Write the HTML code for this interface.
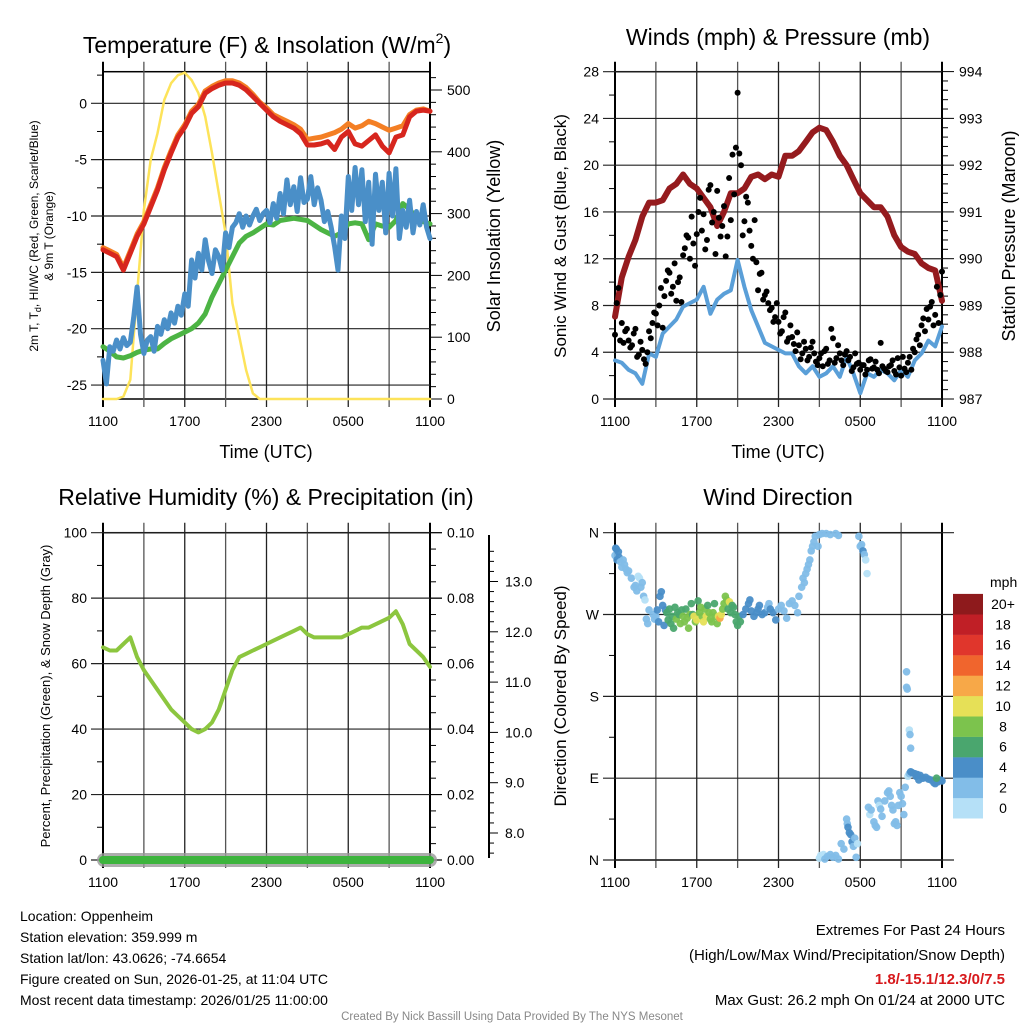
<!DOCTYPE html>
<html><head><meta charset="utf-8"><style>
html,body{margin:0;padding:0;background:#fff}
svg{display:block;font-family:"Liberation Sans",Arial,sans-serif}
</style></head><body>
<svg id="s" width="1024" height="1024" viewBox="0 0 1024 1024" xmlns="http://www.w3.org/2000/svg">
<rect width="1024" height="1024" fill="#fff"/>
<g id="axes"></g>
<g id="marks"></g>
<g id="labels" fill="#000">
<text x="267" y="53" font-size="23" text-anchor="middle">Temperature (F) &amp; Insolation (W/m<tspan font-size="14" dy="-10">2</tspan><tspan dy="10">)</tspan></text>
<text x="778" y="45" font-size="23" text-anchor="middle">Winds (mph) &amp; Pressure (mb)</text>
<text x="266" y="505" font-size="23" text-anchor="middle">Relative Humidity (%) &amp; Precipitation (in)</text>
<text x="778" y="505" font-size="23" text-anchor="middle">Wind Direction</text>
<text x="266" y="458" font-size="18" text-anchor="middle">Time (UTC)</text>
<text x="778" y="458" font-size="18" text-anchor="middle">Time (UTC)</text>
<text transform="translate(38,236) rotate(-90)" font-size="12" text-anchor="middle">2m T, T<tspan font-size="9" dy="3">d</tspan><tspan dy="-3">, HI/WC (Red, Green, Scarlet/Blue)</tspan></text>
<text transform="translate(53,236) rotate(-90)" font-size="12" text-anchor="middle">&amp; 9m T (Orange)</text>
<text transform="translate(500,236) rotate(-90)" font-size="18" text-anchor="middle">Solar Insolation (Yellow)</text>
<text transform="translate(566,236) rotate(-90)" font-size="17" text-anchor="middle">Sonic Wind &amp; Gust (Blue, Black)</text>
<text transform="translate(1015,236) rotate(-90)" font-size="18" text-anchor="middle">Station Pressure (Maroon)</text>
<text transform="translate(50,696) rotate(-90)" font-size="13" text-anchor="middle">Percent, Precipitation (Green), &amp; Snow Depth (Gray)</text>
<text transform="translate(566,696) rotate(-90)" font-size="17" text-anchor="middle">Direction (Colored By Speed)</text>
<text x="990" y="587" font-size="14">mph</text>
<g font-size="14">
<text x="20" y="921">Location: Oppenheim</text>
<text x="20" y="942">Station elevation: 359.999 m</text>
<text x="20" y="963">Station lat/lon: 43.0626; -74.6654</text>
<text x="20" y="984">Figure created on Sun, 2026-01-25, at 11:04 UTC</text>
<text x="20" y="1005">Most recent data timestamp: 2026/01/25 11:00:00</text>
</g>
<g font-size="15" text-anchor="end">
<text x="1005" y="935">Extremes For Past 24 Hours</text>
<text x="1005" y="960">(High/Low/Max Wind/Precipitation/Snow Depth)</text>
<text x="1005" y="984" fill="#d7191c" font-weight="bold">1.8/-15.1/12.3/0/7.5</text>
<text x="1005" y="1005">Max Gust: 26.2 mph On 01/24 at 2000 UTC</text>
</g>
<text x="512" y="1020" font-size="11.5" fill="#888" text-anchor="middle">Created By Nick Bassill Using Data Provided By The NYS Mesonet</text>
</g>
</svg>
<script>
// ---- data (half-hour steps from 1100 UTC) ----
const tempRed=[-13.0,-13.3,-13.6,-14.8,-13.3,-11.8,-10.7,-9.2,-7.7,-5.9,-4.4,-3.0,-2.1,-0.9,-0.3,0.9,1.3,1.6,1.8,1.8,1.6,1.2,0.6,0.0,-0.6,-1.2,-1.6,-1.9,-2.2,-2.7,-3.7,-3.7,-3.6,-3.4,-4.1,-3.0,-2.5,-3.6,-3.8,-3.3,-2.8,-3.8,-4.4,-3.0,-2.8,-1.2,-0.7,-0.6,-0.7];
const temp9m=[-12.8,-13.1,-13.4,-14.6,-13.1,-11.6,-10.5,-9.0,-7.5,-5.7,-4.2,-2.8,-1.9,-0.7,-0.1,1.1,1.5,1.8,2.0,2.0,1.8,1.4,0.8,0.1,-0.4,-1.0,-1.3,-1.6,-1.9,-2.3,-3.2,-3.1,-3.0,-2.8,-2.6,-2.3,-1.8,-2.2,-2.0,-1.6,-1.8,-2.1,-2.4,-2.2,-2.0,-1.0,-0.6,-0.5,-0.7];
const dewPoint=[-21.6,-22.0,-22.5,-22.6,-22.4,-22.1,-21.9,-21.8,-21.8,-21.3,-20.9,-20.6,-20.3,-20.0,-19.5,-18.7,-17.2,-16.0,-14.8,-13.6,-12.4,-11.8,-11.5,-11.1,-10.7,-10.8,-10.4,-10.3,-10.2,-10.3,-10.4,-10.8,-11.2,-11.5,-11.8,-11.5,-10.7,-10.6,-10.7,-12.1,-10.7,-10.9,-11.0,-10.4,-8.9,-9.4,-10.2,-10.5,-10.7];
// wind chill, quarter-hour steps
const windChill=[-22.8,-24.9,-21.6,-22.0,-21.0,-21.8,-20.8,-21.5,-21.2,-19.0,-16.3,-20.5,-22.2,-21.0,-20.7,-22.0,-19.8,-20.5,-19.2,-20.0,-18.6,-19.5,-18.0,-18.8,-16.9,-18.0,-13.9,-15.5,-13.3,-14.8,-12.1,-14.0,-15.1,-13.0,-13.6,-14.8,-11.5,-12.8,-11.0,-10.6,-9.8,-11.0,-10.0,-10.8,-10.0,-9.4,-10.4,-9.8,-9.5,-10.6,-8.9,-10.2,-8.0,-9.8,-6.8,-9.0,-7.4,-9.6,-6.6,-8.8,-8.5,-6.5,-9.0,-7.5,-8.6,-10.5,-9.6,-11.0,-12.7,-14.8,-10.0,-12.0,-6.5,-9.5,-5.7,-9.0,-5.9,-10.5,-7.0,-12.5,-6.3,-9.5,-7.0,-11.5,-6.2,-10.0,-5.8,-12.0,-9.5,-11.0,-8.6,-11.5,-9.6,-10.8,-9.0,-11.0,-12.0];
const solar=[0,0,0,4,31,171,306,387,430,484,511,524,528,516,495,457,398,333,268,155,101,47,9,0,0,0,0,0,0,0,0,0,0,0,0,0,0,0,0,0,0,0,0,0,0,0,0,0,0];
const pressure=[988.76,989.6,990.04,990.4,990.9,991.2,991.2,991.25,991.5,991.6,991.8,991.6,991.5,991.3,991.1,990.7,991.0,991.4,991.4,991.5,991.75,991.8,991.7,991.8,991.75,992.2,992.2,992.3,992.5,992.7,992.8,992.75,992.5,992.2,992.0,991.7,991.4,991.25,991.1,991.1,990.9,990.5,990.25,990.15,990.1,989.9,989.8,989.75,989.1];
const windSpeed=[3.3,3.1,2.5,2.2,1.3,3.9,3.6,5.6,6.2,6.8,7.9,8.2,8.5,9.6,7.3,8.5,9.0,9.3,11.9,9.6,7.6,6.2,4.8,4.5,4.2,3.9,3.9,2.8,2.2,2.8,1.9,2.2,2.8,1.9,3.6,2.2,0.5,2.2,1.9,2.5,2.2,1.6,2.5,1.9,3.3,3.9,5.0,4.5,6.2];
// gust, quarter-hour steps
const windGust=[5.5,9.5,6.5,5.8,5.0,4.6,6.0,3.8,4.2,3.0,5.8,6.5,7.3,8.0,6.1,10.1,10.8,9.6,8.4,10.4,12.3,14.0,12.0,13.3,14.1,17.2,15.8,13.6,18.3,16.0,17.8,13.9,16.5,13.9,15.3,17.5,26.2,20.0,15.2,16.8,13.1,15.3,9.3,10.8,8.9,8.2,7.8,7.0,6.6,5.8,7.4,5.2,5.3,4.1,4.6,3.9,4.3,3.6,4.9,3.2,3.5,2.8,4.3,3.3,5.2,3.5,3.9,2.9,4.1,3.6,2.7,3.0,2.5,2.9,2.5,3.4,2.7,2.5,4.8,2.6,2.3,2.9,2.4,3.5,2.0,2.6,3.1,2.5,4.0,5.5,6.3,5.8,6.8,8.3,7.2,6.5,10.9];
// gust, offset samples (quarter-hour steps starting 1107 UTC)
const windGust2=[8.2,5.0,4.8,6.0,4.4,5.6,3.6,4.9,3.4,4.0,5.2,7.4,6.3,9.5,8.8,11.0,9.0,11.6,10.0,8.3,12.9,13.8,15.6,11.4,16.0,14.4,12.8,17.9,15.1,12.4,15.5,14.8,12.2,18.9,20.9,21.5,21.0,14.0,17.3,14.4,12.0,11.7,10.7,8.5,9.2,7.6,6.6,8.2,5.6,7.0,4.9,6.3,4.7,5.7,3.4,4.9,3.3,4.4,3.9,2.9,3.9,4.1,3.0,6.0,3.1,4.6,3.3,3.8,3.3,2.4,3.9,3.1,2.9,2.1,3.3,2.6,3.2,2.2,2.8,2.4,2.8,3.3,2.1,2.7,3.6,2.3,3.6,4.3,5.1,4.6,6.9,7.7,7.9,6.3,9.6,8.9];
const relHum=[65,64,64,66,68,62,58,55,52,49,46,44,42,40,39,40,42,46,52,58,62,63,64,65,66,67,68,69,70,71,69,68,68,68,68,68,69,70,71,71,72,73,74,76,72,66,64,62,59];
const precip=[0,0];
// wind direction scatter: hours since 1100, degrees, mph
const wdT=[0.0,0.05,0.1,0.15,0.25,0.3,0.4,0.5,0.6,0.7,0.8,0.9,1.0,1.2,1.4,1.5,1.6,1.7,1.8,1.9,2.0,2.1,2.2,2.3,2.4,2.5,2.8,2.9,3.0,3.1,3.2,3.3,3.4,3.5,3.6,3.7,3.8,3.9,4.0,4.1,4.2,4.3,4.4,4.5,4.6,4.7,4.8,4.9,5.0,5.1,5.2,5.3,5.4,5.5,5.6,5.7,5.8,5.9,6.0,6.1,6.2,6.3,6.4,6.5,6.6,6.7,6.8,6.9,7.0,7.1,7.2,7.3,7.4,7.5,7.6,7.7,7.8,7.9,8.0,8.1,8.2,8.3,8.4,8.5,8.6,8.7,8.8,8.9,9.0,9.1,9.2,9.4,9.6,9.8,9.9,10.0,10.2,10.4,10.5,10.6,10.8,11.0,11.2,11.3,11.4,11.6,11.8,12.0,12.2,12.4,12.6,12.8,13.0,13.2,13.4,13.5,13.7,13.8,13.9,14.0,14.1,14.2,14.3,14.4,14.5,14.6,14.7,14.9,15.0,15.2,15.5,15.8,16.2,16.4,17.9,18.0,18.1,18.2,18.3,18.4,18.5,15.0,15.1,15.3,15.4,15.6,15.8,16.0,16.2,16.4,16.6,16.8,17.0,17.05,17.1,17.2,17.3,17.4,17.5,17.6,17.7,17.8,18.6,18.7,18.8,19.0,19.1,19.2,19.3,19.4,19.5,19.6,19.8,20.0,20.1,20.2,20.3,20.4,20.5,20.6,20.7,20.8,20.9,21.0,21.1,21.2,21.3,21.4,21.4,21.45,21.6,21.65,21.7,21.5,21.6,21.7,21.8,22.0,22.1,22.2,22.4,22.6,22.8,23.0,23.2,23.4,23.5,23.7,23.9,24.0,23.6,22.3];
const wdD=[335,343,342,330,339,333,328,322,330,325,320,316,318,310,300,302,296,312,310,300,305,290,286,265,260,275,270,265,268,275,262,290,295,280,258,275,272,264,276,260,268,255,278,265,272,270,260,275,268,262,276,266,255,270,282,270,268,262,264,285,272,278,268,262,276,268,280,272,265,262,272,282,268,260,268,266,270,276,282,290,286,276,284,272,280,278,270,262,258,268,262,270,276,282,286,274,268,272,276,280,270,272,278,282,276,272,264,276,280,274,266,282,285,280,272,290,300,310,305,315,320,325,330,340,345,350,356,345,358,359,359,358,359,357,356,345,347,340,336,330,315,2,5,6,1,4,6,3,5,1,18,12,45,40,36,30,28,20,15,24,3,18,58,50,55,42,38,36,65,60,56,48,65,74,76,70,60,55,40,42,38,60,74,70,62,50,80,207,190,188,143,138,123,92,95,97,96,95,92,94,93,90,91,89,88,85,84,86,88,87,90,88];
const wdS=[3,4,4,5,4,4,3,3,3,2,2,3,2,3,2,2,3,0,0,2,2,3,0,2,2,2,2,2,3,4,4,4,4,4,4,4,6,6,6,6,7,7,6,8,6,7,8,7,8,9,6,8,8,9,6,7,10,9,10,7,8,9,8,10,8,10,7,9,8,9,8,7,9,8,10,12,10,9,8,8,9,7,10,6,7,6,6,6,7,6,7,5,4,4,4,4,4,5,4,4,4,4,3,3,4,4,4,3,3,2,2,2,2,2,2,2,2,2,2,2,2,2,2,2,2,2,2,2,2,2,2,2,2,2,2,2,2,4,2,0,0,0,0,0,2,2,2,2,2,2,2,2,2,2,4,4,4,4,2,2,2,0,2,0,2,2,2,2,2,0,2,2,2,2,2,2,2,2,2,2,2,2,2,2,2,2,2,2,2,2,0,2,2,0,2,4,4,4,4,4,4,4,4,4,4,4,4,4,4,4,6,4,4,4];
const speedBins=[0,2,4,6,8,10,12,14,16,18,20];
const speedColors=["#b5e0f7","#82bde8","#4a8ec8","#4aa66e","#7cc34d","#e6e057","#f7a848","#f0652d","#e0362c","#c01f26","#8e1a1c"];
const binLabels=["0","2","4","6","8","10","12","14","16","18","20+"];
const hourLabels=["1100","1700","2300","0500","1100"];

const NS="http://www.w3.org/2000/svg";
const axes=document.getElementById('axes'), marks=document.getElementById('marks');
function mk(tag,attrs,parent){const e=document.createElementNS(NS,tag);for(const k in attrs)e.setAttribute(k,attrs[k]);(parent||marks).appendChild(e);return e;}

// axis functions
const P1={x0:103,x1:430,y0:71.7,y1:399};
const P2={x0:615,x1:942,y0:71.7,y1:399};
const P3={x0:103,x1:430,y0:532.7,y1:860};
const P4={x0:615,x1:942,y0:532.7,y1:860};
const xT=(P,h)=>P.x0+h*(P.x1-P.x0)/24;
const yTemp=v=>103.3-v*11.27;
const ySol=w=>399-w*0.618;
const yWind=v=>399-v*11.69;
const yPres=p=>399-(p-987)*46.77;
const yRH=v=>860-v*3.273;
const yPrec=v=>860-v*3273;
const ySnow=v=>833-(v-8)*50.3;
const yDir=d=>860-d*(327.3/360);

function frame(P,name){
  mk('rect',{x:P.x0,y:P.y0,width:P.x1-P.x0,height:P.y1-P.y0,fill:'none',stroke:'#000','stroke-width':1.5},axes);
  for(let k=1;k<8;k++){const x=P.x0+k*(P.x1-P.x0)/8;
    const l=mk('line',{x1:x,x2:x,y1:P.y0-10,y2:P.y1+8,stroke:k%2?'#555':'#222','stroke-width':1.3},axes);
    
    }
  mk('line',{x1:P.x0,x2:P.x0,y1:P.y0-10,y2:P.y1+8,stroke:'#000','stroke-width':2},axes);
  mk('line',{x1:P.x1,x2:P.x1,y1:P.y0-10,y2:P.y1+8,stroke:'#000','stroke-width':2},axes);
  hourLabels.forEach((s,i)=>{const t=mk('text',{x:xT(P,i*6),y:P.y1+27,'font-size':14,'text-anchor':'middle'},axes);t.textContent=s;
    
    });
}
function hgrid(P,y,lab,side,name){
  mk('line',{x1:P.x0-12,x2:P.x1+(side?12:0),y1:y,y2:y,stroke:'#222','stroke-width':1.2},axes);
  if(lab!==null){const t=mk('text',{x:P.x0-16,y:y+5,'font-size':14,'text-anchor':'end'},axes);t.textContent=lab;
    
    }
}
function rtick(P,y,lab,name,major){
  mk('line',{x1:P.x1,x2:P.x1+(major?12:6),y1:y,y2:y,stroke:'#000','stroke-width':1},axes);
  if(lab!==null){const t=mk('text',{x:P.x1+17,y:y+5,'font-size':14},axes);t.textContent=lab;
    
    }
}
function path(pts,attrs,name){
  const d=pts.map((p,i)=>(i?'L':'M')+p[0].toFixed(1)+' '+p[1].toFixed(1)).join(' ');
  const e=mk('path',Object.assign({d:d,fill:'none','stroke-linejoin':'round','stroke-linecap':'round'},attrs));
  
  
  return e;
}

// Panel 1
frame(P1,'temp');
for(let v=0;v>=-25;v-=5){hgrid(P1,yTemp(v),String(v),0,'temp');}
for(let v=2.5;v>=-25;v-=5){mk('line',{x1:P1.x0-6,x2:P1.x0,y1:yTemp(v),y2:yTemp(v),stroke:'#000'},axes);}
for(let w=0;w<=520;w+=20){rtick(P1,ySol(w),w%100===0?String(w):null,'insolation',w%100===0);}
path(solar.map((v,i)=>[xT(P1,i*0.5),ySol(v)]),{stroke:'#fde35a','stroke-width':2.5},'solar-insolation-line');
path(dewPoint.map((v,i)=>[xT(P1,i*0.5),yTemp(v)]),{stroke:'#4cb444','stroke-width':5},'dewpoint-line');
path(windChill.map((v,i)=>[xT(P1,i*0.25),yTemp(v)]),{stroke:'#4a8fc8','stroke-width':5},'wind-chill-line');
path(temp9m.map((v,i)=>[xT(P1,i*0.5),yTemp(v)]),{stroke:'#f47f24','stroke-width':5},'temp-9m-line');
path(tempRed.map((v,i)=>[xT(P1,i*0.5),yTemp(v)]),{stroke:'#d7261e','stroke-width':5},'temp-2m-line');

// Panel 2
frame(P2,'winds');
for(let v=0;v<=28;v+=4){hgrid(P2,yWind(v),String(v),0,'winds');}
for(let v=2;v<28;v+=4){mk('line',{x1:P2.x0-6,x2:P2.x0,y1:yWind(v),y2:yWind(v),stroke:'#000'},axes);}
for(let p=987;p<=994.01;p+=0.2){const m=Math.abs(p-Math.round(p))<0.01;rtick(P2,yPres(p),m?String(Math.round(p)):null,'pressure',m);}
path(windSpeed.map((v,i)=>[xT(P2,i*0.5),yWind(v)]),{stroke:'#5a9fd8','stroke-width':4},'sonic-wind-line');
path(pressure.map((v,i)=>[xT(P2,i*0.5),yPres(v)]),{stroke:'#951b1e','stroke-width':6},'pressure-line');
windGust.forEach((v,i)=>{const c=mk('circle',{cx:xT(P2,i*0.25),cy:yWind(v),r:3,fill:'#000'});
  
  });
windGust2.forEach((v,i)=>{const c=mk('circle',{cx:xT(P2,0.125+i*0.25),cy:yWind(v),r:3,fill:'#000'});
  
  });

// Panel 3
frame(P3,'humidity');
for(let v=0;v<=100;v+=20){hgrid(P3,yRH(v),String(v),1,'humidity');}
for(let v=10;v<100;v+=20){mk('line',{x1:P3.x0-6,x2:P3.x0,y1:yRH(v),y2:yRH(v),stroke:'#000'},axes);}
for(let p=0;p<=0.1001;p+=0.005){const m=Math.round(p*1000)%20===0;rtick(P3,yPrec(p),m?p.toFixed(2):null,'precip',m);}
mk('line',{x1:489,x2:489,y1:535,y2:858,stroke:'#000','stroke-width':2},axes);
for(let s=7.6;s<=13.6;s+=0.2){const m=Math.abs(s-Math.round(s))<0.01;const y=ySnow(s);if(y<535||y>858)continue;
  mk('line',{x1:489,x2:489+(m?9:5),y1:y,y2:y,stroke:'#000'},axes);
  if(m&&Math.round(s)>=8&&Math.round(s)<=13){const t=mk('text',{x:505,y:y+5,'font-size':14},axes);t.textContent=s.toFixed(1);
    
    }}
mk('rect',{x:97,y:853,width:340,height:14,rx:7,fill:'#999',opacity:0.8});
path(precip.map((v,i)=>[xT(P3,i*24),yPrec(v)]),{stroke:'#3db43d','stroke-width':8},'precip-line');
path(relHum.map((v,i)=>[xT(P3,i*0.5),yRH(v)]),{stroke:'#8cc63f','stroke-width':4},'rh-line');

// Panel 4
frame(P4,'direction');
["N","W","S","E","N"].forEach((s,i)=>{const d=360-i*90;hgrid(P4,yDir(d),s,1,'direction');});
for(let d=45;d<360;d+=90){mk('line',{x1:P4.x0-6,x2:P4.x0,y1:yDir(d),y2:yDir(d),stroke:'#000'},axes);}
function binColor(s){let k=0;for(let i=0;i<speedBins.length;i++)if(s>=speedBins[i])k=i;return speedColors[k];}
wdT.forEach((t,i)=>{const c=mk('circle',{cx:xT(P4,t),cy:yDir(wdD[i]),r:3.8,fill:binColor(wdS[i]),opacity:0.95});
  
  });
// colorbar
speedColors.forEach((c,i)=>{const y=818.3-(i+1)*20.4;
  const r=mk('rect',{x:953,y:y,width:30,height:20.6,fill:c},axes);
  
  
  const t=mk('text',{x:1003,y:y+15,'font-size':14,'text-anchor':'middle'},axes);t.textContent=binLabels[i];
  
  });
</script>
</body></html>
